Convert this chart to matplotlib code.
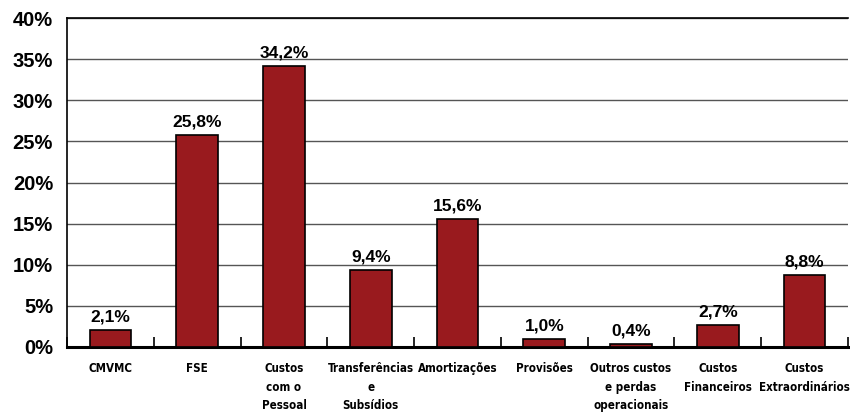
import numpy as np
import matplotlib.pyplot as plt

# Dados
categorias = ['CMVMC', 'FSE', 'Custos\ncom o\nPessoal', 'Transferências\ne\nSubsídios',
              'Amortizações', 'Provisões', 'Outros custos\ne perdas\noperacionais',
              'Custos\nFinanceiros', 'Custos\nExtraordinários']
valores = [2.1, 25.8, 34.2, 9.4, 15.6, 1.0, 0.4, 2.7, 8.8]
yticks = [0, 5, 10, 15, 20, 25, 30, 35, 40]

plt.rcParams['font.family'] = ['Liberation Sans', 'DejaVu Sans']

cor = '#991a1e'

fig = plt.figure(figsize=(8.5, 4.18), dpi=100)
ax = fig.add_axes([67 / 850, 1 - 347 / 418, (848 - 67) / 850, (347 - 18) / 418])

x = np.arange(len(categorias))
ax.bar(x, valores, width=0.48, color=cor, edgecolor='black', linewidth=1.2, zorder=3)

for xi, v in zip(x, valores):
    ax.text(xi, v + 0.6, f'{v:.1f}%'.replace('.', ','), ha='center', va='bottom',
            fontsize=12.5, fontweight='bold', zorder=4)

ax.set_xlim(-0.5, len(categorias) - 0.5)
ax.set_ylim(0, 40)
ax.set_yticks(yticks)
ax.set_yticklabels([f'{t}%' for t in yticks], fontsize=14.5, fontweight='bold')
ax.yaxis.grid(True, color='#555555', linewidth=1.0, zorder=0)
ax.tick_params(axis='y', length=0, pad=10)

ax.set_xticks(x)
ax.set_xticklabels(categorias, fontsize=8.3, fontweight='bold', family='DejaVu Sans',
                   fontstretch='condensed', linespacing=1.55)
ax.tick_params(axis='x', length=0, pad=11)
# marcas entre categorias
ax.set_xticks(np.arange(-0.5, len(categorias)), minor=True)
ax.tick_params(axis='x', which='minor', direction='in', length=7, width=1.2, color='black')

for s in ['left', 'top', 'right']:
    ax.spines[s].set_linewidth(1.2)
ax.spines['right'].set_visible(False)
ax.spines['bottom'].set_linewidth(2.2)

fig.savefig('out.png', dpi=100)
